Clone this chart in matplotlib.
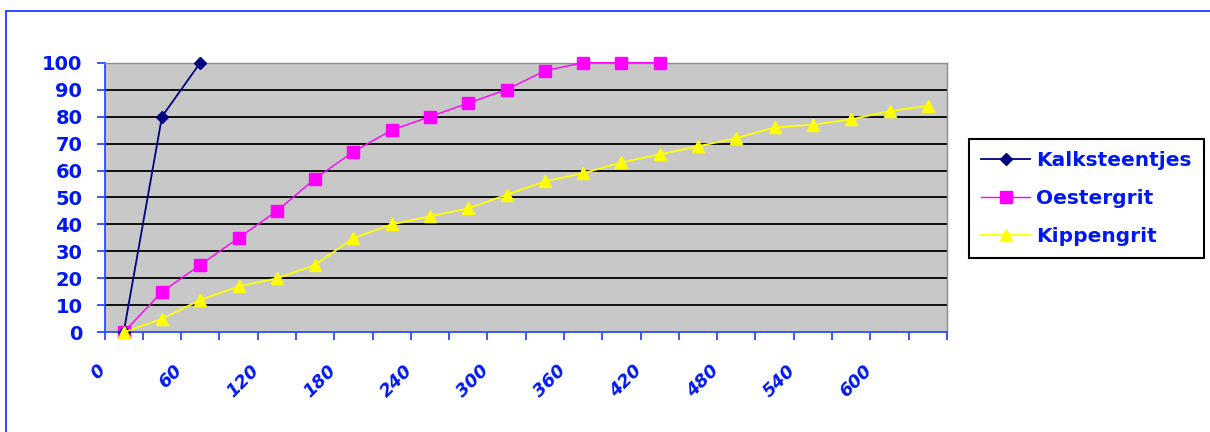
import matplotlib
matplotlib.use("Agg")
import matplotlib.pyplot as plt
import matplotlib.transforms as mtransforms
from matplotlib.patches import Rectangle

# minutes per category (Excel line chart, every other one labelled)
minutes = [0, 30, 60, 90, 120, 150, 180, 210, 240, 270, 300,
           330, 360, 390, 420, 450, 480, 510, 540, 570, 600, 630]
kalksteentjes = [0, 80, 100]
oestergrit = [0, 15, 25, 35, 45, 57, 67, 75, 80, 85, 90, 97, 100, 100, 100]
kippengrit = [0, 5, 12, 17, 20, 25, 35, 40, 43, 46, 51, 56, 59, 63, 66,
              69, 72, 76, 77, 79, 82, 84]
y_ticks = [0, 10, 20, 30, 40, 50, 60, 70, 80, 90, 100]

BLUE_TEXT = "#0018F0"
BLUE_AXIS = "#2A4BFF"

fig = plt.figure(figsize=(12.1, 4.32), dpi=100)
fig.patch.set_facecolor("white")

# outer chart frame (clipped at right/bottom like the screenshot)
fig.patches.append(Rectangle((6 / 1210, -0.2), 1.2, (421 / 432) + 0.2,
                             transform=fig.transFigure, fill=False,
                             edgecolor="#1E3CFF", linewidth=1.3))

ax = fig.add_axes([0.0864, 0.2308, 0.6962, 0.6241])
ax.set_facecolor("#C8C8C8")

x_k = list(range(len(kalksteentjes)))
x_o = list(range(len(oestergrit)))
x_p = list(range(len(kippengrit)))

ax.plot(x_k, kalksteentjes, color="#000080", marker="D", markersize=6.5,
        linewidth=1.3, label="Kalksteentjes", zorder=5, clip_on=False)
ax.plot(x_o, oestergrit, color="#FF00FF", marker="s", markersize=8,
        linewidth=1.0, label="Oestergrit", zorder=4, clip_on=False)
ax.plot(x_p, kippengrit, color="#FFFF00", marker="^", markersize=9,
        linewidth=1.3, label="Kippengrit", zorder=6, clip_on=False)

ax.set_xlim(-0.5, len(minutes) - 0.5)
ax.set_ylim(0, 100)

# horizontal black gridlines
for v in y_ticks[1:-1]:
    ax.axhline(v, color="black", linewidth=1.3, zorder=1)

# spines
for side in ["top", "right"]:
    ax.spines[side].set_color("#8C8C8C")
    ax.spines[side].set_linewidth(1.0)
for side in ["left", "bottom"]:
    ax.spines[side].set_color(BLUE_AXIS)
    ax.spines[side].set_linewidth(1.3)

# y axis
ax.set_yticks(y_ticks)
ax.set_yticklabels([str(v) for v in y_ticks])
ax.tick_params(axis="y", direction="out", length=6, width=1.3,
               color=BLUE_AXIS, pad=10, labelsize=14, labelcolor=BLUE_TEXT)
for lab in ax.get_yticklabels():
    lab.set_fontweight("bold")

# x axis: tick marks between categories, labels on every other category
ax.set_xticks([i - 0.5 for i in range(len(minutes) + 1)])
ax.set_xticklabels([])
ax.tick_params(axis="x", which="major", direction="out", length=6,
               width=1.3, color=BLUE_AXIS)
label_pos = list(range(0, len(minutes), 2))
ax.set_xticks(label_pos, minor=True)
ax.set_xticklabels([str(minutes[i]) for i in label_pos], minor=True)
ax.tick_params(axis="x", which="minor", length=0, pad=21,
               labelsize=13, labelcolor=BLUE_TEXT)
shift = mtransforms.ScaledTranslation(-27 / 100, 0, fig.dpi_scale_trans)
for lab in ax.get_xticklabels(minor=True):
    lab.set_rotation(45)
    lab.set_rotation_mode("anchor")
    lab.set_ha("right")
    lab.set_va("top")
    lab.set_fontweight("bold")
    lab.set_fontstyle("italic")
    lab.set_transform(lab.get_transform() + shift)

leg = fig.legend(loc="upper left", bbox_to_anchor=(0.8008, 0.678),
                 frameon=True, fancybox=False, edgecolor="black",
                 framealpha=1, borderaxespad=0, handlelength=2.45,
                 handletextpad=0.3, labelspacing=0.94, borderpad=0.6,
                 prop={"weight": "bold", "size": 14.5})
leg.get_frame().set_linewidth(1.5)
for txt in leg.get_texts():
    txt.set_color(BLUE_TEXT)

plt.savefig("out.png", dpi=100)
plt.close()
